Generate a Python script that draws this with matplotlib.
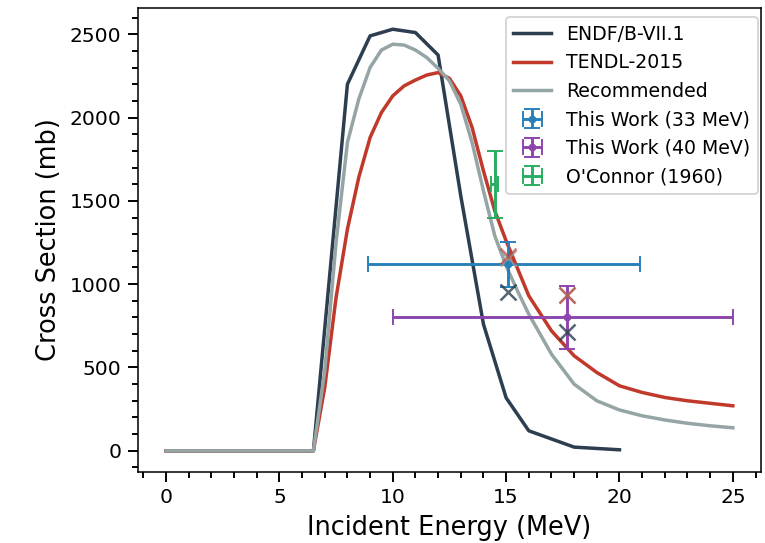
import numpy as np
import matplotlib.pyplot as plt
from matplotlib.ticker import MultipleLocator

# evaluated cross sections (MeV, mb)
endf_e = [0, 6.5, 8, 9, 10, 11, 12, 13, 14, 15, 16, 18, 20]
endf_xs = [0, 0, 2200, 2490, 2530, 2510, 2375, 1530, 760, 318, 120, 22, 6]

tendl_e = [0, 6.5, 7, 7.5, 8, 8.5, 9, 9.5, 10, 10.5, 11, 11.5, 12, 12.5,
           13, 13.5, 14, 14.5, 15, 16, 17, 18, 19, 20, 21, 22, 23, 24, 25]
tendl_xs = [0, 0, 380, 920, 1330, 1640, 1880, 2030, 2130, 2190, 2225, 2255, 2270, 2235,
            2130, 1940, 1680, 1440, 1260, 930, 720, 570, 470, 390, 350, 320, 300, 285, 270]

rec_e = [0, 6.5, 7, 7.5, 8, 8.5, 9, 9.5, 10, 10.5, 11, 11.5, 12, 12.5,
         13, 13.5, 14, 14.5, 15, 15.5, 16, 17, 18, 19, 20, 21, 22, 23, 24, 25]
rec_xs = [0, 0, 480, 1250, 1850, 2110, 2300, 2405, 2440, 2435, 2405, 2360, 2295, 2220,
          2080, 1850, 1560, 1290, 1110, 960, 820, 580, 400, 300, 245, 210, 185, 165, 150, 138]

# measurements: energy, xs, energy spread (low, high), xs error
w33_e, w33_xs = 15.1, 1120
w33_xerr = [[6.2], [5.8]]
w33_yerr = 135

w40_e, w40_xs = 17.7, 800
w40_xerr = [[7.7], [7.3]]
w40_yerr = 190

oc_e, oc_xs = 14.5, 1600
oc_xerr = 0.15
oc_yerr = 200

# flux-averaged library values at the measured energies
avg_e = [15.1, 17.7]
avg_endf = [950, 710]
avg_tendl = [1170, 935]
avg_rec = [1160, 935]

C_ENDF = "#2c3e50"
C_TENDL = "#c0392b"
C_REC = "#95a5a6"

fig, ax = plt.subplots(figsize=(765 / 139, 543 / 139), dpi=139)
fig.subplots_adjust(left=0.180, right=0.995, bottom=0.131, top=0.985)

ax.plot(endf_e, endf_xs, color=C_ENDF, lw=1.8, label="ENDF/B-VII.1")
ax.plot(tendl_e, tendl_xs, color=C_TENDL, lw=1.8, label="TENDL-2015")
ax.plot(rec_e, rec_xs, color=C_REC, lw=1.8, label="Recommended")

ax.errorbar(w33_e, w33_xs, xerr=w33_xerr, yerr=w33_yerr, fmt="o", ms=3,
            color="#2980b9", capsize=4, label="This Work (33 MeV)")
ax.errorbar(w40_e, w40_xs, xerr=w40_xerr, yerr=w40_yerr, fmt="o", ms=3,
            color="#8e44ad", capsize=4, label="This Work (40 MeV)")
ax.errorbar(oc_e, oc_xs, xerr=oc_xerr, yerr=oc_yerr, fmt="none",
            color="#27ae60", capsize=4, label="O'Connor (1960)")

ax.plot(avg_e, avg_endf, "x", color=C_ENDF, ms=8, mew=1.3, alpha=0.8)
ax.plot(avg_e, avg_rec, "x", color=C_REC, ms=8, mew=1.3, alpha=0.8)
ax.plot(avg_e, avg_tendl, "x", color=C_TENDL, ms=8, mew=1.3, alpha=0.6)

ax.xaxis.set_minor_locator(MultipleLocator(1))
ax.yaxis.set_minor_locator(MultipleLocator(100))
ax.tick_params(which="major", length=5, width=1, labelsize=10.5)
ax.tick_params(which="minor", length=3, width=1)

ax.set_xlabel("Incident Energy (MeV)", fontsize=13.3)
ax.set_ylabel("Cross Section (mb)", fontsize=13.3)
ax.legend(loc="upper right", fontsize=9.8, borderaxespad=0,
          bbox_to_anchor=(0.995, 0.98))

fig.savefig("out.png", dpi=139)
